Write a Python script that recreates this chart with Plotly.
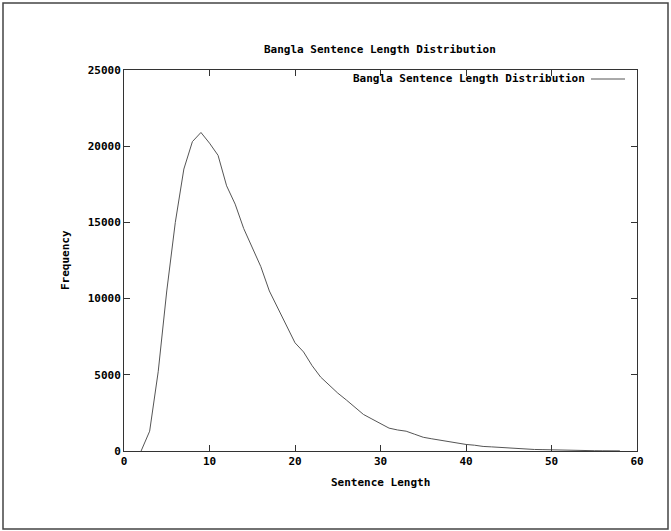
import plotly.graph_objects as go

sentence_length = list(range(2, 59))
frequency = [
    0, 1300, 5200, 10500, 15000, 18500, 20300, 20900, 20200, 19400,   # 2-11
    17400, 16200, 14600, 13300, 12100, 10500, 9400, 8300, 7100, 6500,  # 12-21
    5600, 4850, 4300, 3800, 3350, 2900, 2400, 2100, 1800, 1500,        # 22-31
    1380, 1300, 1100, 900, 800, 700, 600, 500, 430, 380,               # 32-41
    300, 270, 230, 200, 170, 120, 100, 90, 70, 50,                     # 42-51
    40, 30, 25, 20, 15, 12, 10,                                        # 52-58
]
x_ticks = [0, 10, 20, 30, 40, 50, 60]
y_ticks = [0, 5000, 10000, 15000, 20000, 25000]
title_text = "Bangla Sentence Length Distribution"
series_name = "Bangla Sentence Length Distribution"
x_title = "Sentence Length"
y_title = "Frequency"

W, H = 671, 531
L, R, T, B = 124, 637, 70, 451
pw, ph = R - L, B - T

def px(xp):
    return (xp - L) / pw

def py(yp):
    return (B - yp) / ph

FONT = dict(family="DejaVu Sans Mono", size=11, color="black", weight="bold")

fig = go.Figure()
fig.add_trace(go.Scatter(
    x=sentence_length, y=frequency, mode="lines",
    line=dict(color="#555555", width=1), name=series_name, showlegend=False,
))

axis_common = dict(
    showline=True, linecolor="#333333", linewidth=1, mirror="ticks",
    ticks="inside", ticklen=6, tickcolor="#333333", tickwidth=1,
    showgrid=False, zeroline=False, tickfont=FONT,
)
fig.update_xaxes(range=[0, 60], tickvals=x_ticks, ticktext=[str(v) for v in x_ticks],
                 **axis_common)
fig.update_yaxes(range=[0, 25000], tickvals=y_ticks, ticktext=[str(v) for v in y_ticks],
                 **axis_common)

annotations = [
    dict(text=title_text, x=px(380), y=py(50), xref="paper", yref="paper",
         showarrow=False, xanchor="center", yanchor="middle", font=FONT),
    dict(text=x_title, x=px(380), y=py(482), xref="paper", yref="paper",
         showarrow=False, xanchor="center", yanchor="middle", font=FONT),
    dict(text=y_title, x=px(65), y=py(260), xref="paper", yref="paper",
         showarrow=False, xanchor="center", yanchor="middle", textangle=-90, font=FONT),
    dict(text=series_name, x=px(587), y=py(78), xref="paper", yref="paper",
         showarrow=False, xanchor="right", yanchor="middle", font=FONT),
]

shapes = [
    dict(type="line", xref="paper", yref="paper", x0=px(591), x1=px(625),
         y0=py(79), y1=py(79), line=dict(color="#555555", width=1)),
    dict(type="rect", xref="paper", yref="paper", x0=px(3), x1=px(668),
         y0=py(529), y1=py(3), line=dict(color="#444444", width=1.5)),
]

fig.update_layout(
    width=W, height=H, margin=dict(l=L, r=W - R, t=T, b=H - B, pad=0),
    paper_bgcolor="white", plot_bgcolor="white",
    annotations=annotations, shapes=shapes, font=FONT,
)

fig.write_html(
    "out.html",
    config={"displayModeBar": False},
    post_script="document.body.style.margin='0';document.body.style.overflow='hidden';",
)
